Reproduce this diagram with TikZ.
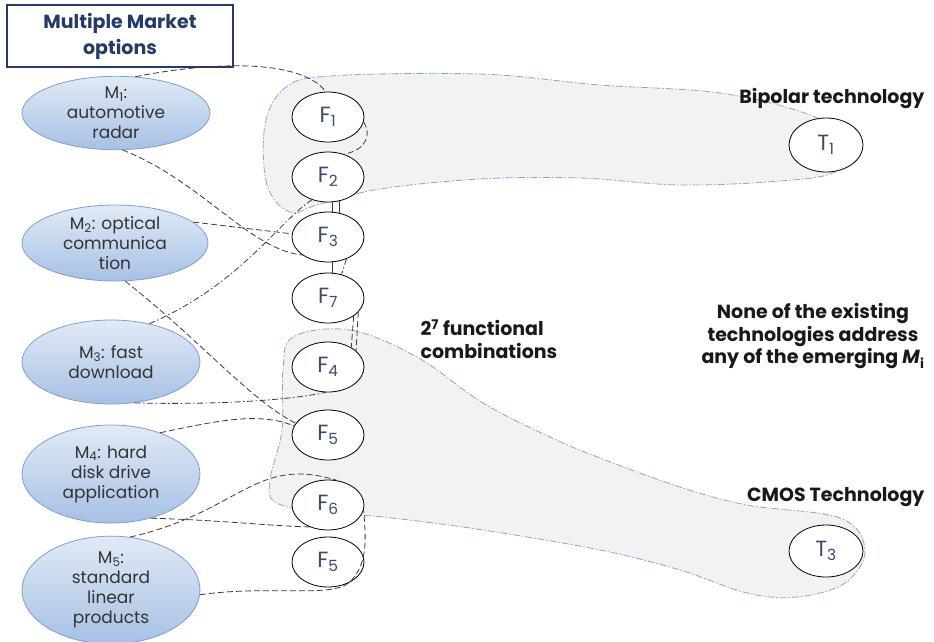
\documentclass[tikz,border=0pt]{standalone}
\usepackage{fontspec}
\setmainfont{Poppins}
\usetikzlibrary{shapes.geometric}
\definecolor{navy}{HTML}{233A6B}
\definecolor{mborder}{HTML}{7F9FCF}
\definecolor{mtop}{HTML}{E1EAF6}
\definecolor{mbot}{HTML}{A7C0E4}
\definecolor{regfill}{HTML}{F0F2F3}
\definecolor{regline}{HTML}{8DA6C6}
\definecolor{txt}{HTML}{333333}
\definecolor{ftxt}{HTML}{3C4A6E}
\definecolor{conn}{HTML}{3A3A3A}
\tikzset{
  mkt/.style={ellipse, draw=mborder, line width=0.8pt, top color=mtop, bottom color=mbot,
    inner sep=0pt, align=center, text=txt, font=\fontsize{17}{20}\selectfont},
  fun/.style={ellipse, draw=black, line width=0.8pt, fill=white, minimum width=72pt,
    minimum height=50pt, inner sep=0pt, text=ftxt, font=\fontsize{22}{22}\selectfont},
  techregion/.style={fill=regfill, draw=regline, line width=0.8pt, dash pattern=on 7pt off 2pt on 1.5pt off 2pt},
  dsh/.style={draw=conn, line width=0.8pt, dash pattern=on 6pt off 3pt},
  dshdot/.style={draw=conn, line width=0.8pt, dash pattern=on 6pt off 2.5pt on 1.5pt off 2.5pt},
  sld/.style={draw=conn, line width=0.8pt},
  bold/.style={font=\bfseries\fontsize{19}{22.5}\selectfont, text=black!90}
}
\begin{document}
\begin{tikzpicture}[x=1pt,y=-1pt]
\useasboundingbox (0,0) rectangle (934,641);
% technology regions
\path[techregion] plot[smooth cycle, tension=0.6] coordinates {(290,212) (267,185) (265,125) (285,88) (330,76) (480,74) (600,85) (720,93) (810,115) (855,145) (835,172) (780,181) (680,185) (580,178) (480,179) (380,189) (320,204)};
\path[techregion] plot[smooth cycle, tension=0.6] coordinates {(293,337) (350,330) (417,357) (483,403) (550,437) (600,458) (680,487) (747,505) (840,518) (865,550) (845,583) (797,597) (747,593) (680,570) (600,550) (483,530) (383,517) (317,512) (275,502) (270,480) (282,430) (283,370)};
% title
\node[draw=navy, line width=1.6pt, minimum width=226pt, minimum height=62pt, align=center,
  text=navy, font=\bfseries\fontsize{19}{26}\selectfont] (title) at (120,36) {Multiple Market\\options};
% market ellipses
\node[mkt, minimum width=188pt, minimum height=72pt] (M1) at (116,113) {M\textsubscript{1}:\\automotive\\radar};
\node[mkt, minimum width=186pt, minimum height=76pt] (M2) at (115,243) {M\textsubscript{2}: optical\\communica\\tion};
\node[mkt, minimum width=178pt, minimum height=84pt] (M3) at (111,362) {M\textsubscript{3}: fast\\download};
\node[mkt, minimum width=178pt, minimum height=98pt] (M4) at (111,474) {M\textsubscript{4}: hard\\disk drive\\application};
\node[mkt, minimum width=178pt, minimum height=100pt] (M5) at (111,590) {M\textsubscript{5}:\\standard\\linear\\products};
% function ellipses
\node[fun] (F1) at (328,117) {F\textsubscript{1}};
\node[fun] (F2) at (328,177) {F\textsubscript{2}};
\node[fun] (F3) at (328,237) {F\textsubscript{3}};
\node[fun] (F7) at (328,298) {F\textsubscript{7}};
\node[fun] (F4) at (328,367) {F\textsubscript{4}};
\node[fun] (F5) at (328,435) {F\textsubscript{5}};
\node[fun] (F6) at (328,505) {F\textsubscript{6}};
\node[fun] (F5b) at (328,562) {F\textsubscript{5}};
% technologies
\node[fun, minimum width=74pt, minimum height=54pt] (T1) at (826,145) {T\textsubscript{1}};
\node[fun, minimum width=74pt, minimum height=52pt] (T3) at (826,551) {T\textsubscript{3}};
% labels
\node[bold, anchor=east] (bip) at (928,98) {Bipolar technology};
\node[bold, anchor=east] (cmos) at (928,497) {CMOS Technology};
\node[bold, anchor=north west, align=left] (comb) at (417,316) {2\textsuperscript{7} functional\\combinations};
\node[bold, align=center] (none) at (813,336) {None of the existing\\technologies address\\any of the emerging \textit{M}\textsubscript{i}};
% connectors
\draw[dsh] (M1.62) .. controls (210,62) and (300,58) .. (F1.95);
\draw[dsh] (F1.-8) .. controls (372,135) and (366,150) .. (F2.55);
\draw[dsh] (M1.-80) .. controls (200,180) and (250,250) .. (F3.215);
\draw[dsh] (M2.15) -- (F3.175);
\draw[dshdot] (M3.45) .. controls (240,285) and (280,220) .. (F2.235);
\draw[dsh] (M2.-75) .. controls (200,340) and (250,400) .. (F5.160);
\draw[dshdot] (M3.-60) .. controls (220,405) and (290,400) .. (F4.-95);
\draw[dsh] (M4.40) .. controls (220,420) and (260,412) .. (F5.165);
\draw[dsh] (M4.-48) .. controls (220,520) and (270,526) .. (F6.-130);
\draw[dsh] (M5.70) .. controls (240,512) and (255,455) .. (F6.70);
\draw[dsh] (M5.-3) .. controls (270,585) and (330,598) .. (F5b.-45) .. controls (368,565) and (366,540) .. (F6.-8);
\draw[sld] (F2.-80) -- (F3.80);
\draw[sld] (F2.-65) -- (F3.65);
\draw[sld] (F3.-80) -- (F7.80);
\draw[dshdot] (F3.-50) -- (F7.60);
\draw[dsh] (F7.-35) -- (F4.40);
\draw[dsh] (F7.-25) -- (F4.30);
\end{tikzpicture}
\end{document}
